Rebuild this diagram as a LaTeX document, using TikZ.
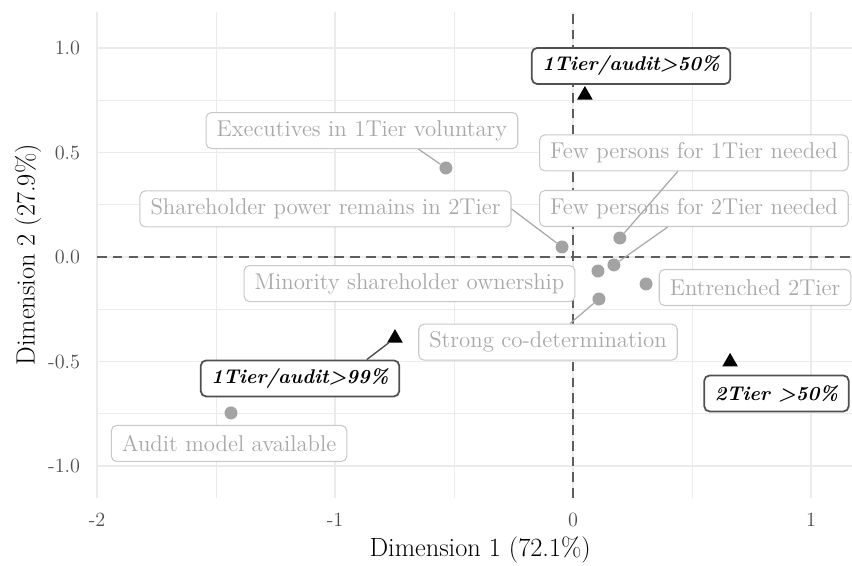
\documentclass[tikz,border=0pt]{standalone}
\usepackage{fontspec}
\usepackage{tikz}
\usetikzlibrary{positioning,shapes.geometric}

\definecolor{gridgray}{HTML}{EBEBEB}
\definecolor{dashgray}{HTML}{5E5E5E}
\definecolor{axisgray}{HTML}{4D4D4D}
\definecolor{lblgray}{HTML}{A8A8A8}
\definecolor{boxgray}{HTML}{C8C8C8}
\definecolor{ptgray}{HTML}{A3A3A3}
\definecolor{keygray}{HTML}{505050}

\begin{document}
\begin{tikzpicture}[
  x=4.76cm, y=4.18cm,
  lbl/.style={
    rectangle, rounded corners=3pt, minimum height=0.72cm, inner xsep=6pt,
    draw=boxgray, line width=0.6pt, fill=white, text=lblgray,
    font=\fontsize{13}{15}\selectfont
  },
  keylbl/.style={
    lbl, draw=keygray, line width=1pt, text=black,
    font=\fontsize{11.3}{13}\selectfont\bfseries\itshape
  },
  pt/.style={circle, fill=ptgray, inner sep=0pt, minimum size=0.26cm},
  tri/.style={regular polygon, regular polygon sides=3, fill=black,
    inner sep=0pt, minimum size=0.36cm},
  seg/.style={lblgray, line width=0.7pt},
  keyseg/.style={keygray, line width=0.8pt},
  gridmajor/.style={gridgray, line width=0.8pt},
  gridminor/.style={gridgray, line width=0.5pt},
  zeroline/.style={dashgray, line width=0.9pt, dash pattern=on 5.5pt off 3.5pt},
  ticklbl/.style={text=axisgray, font=\fontsize{11.5}{13}\selectfont},
  axtitle/.style={font=\fontsize{15}{17}\selectfont}
]
\useasboundingbox (-2.4076,-1.4737) rectangle (1.1723,1.2297);

% === Panel grid ===
\foreach \gx in {-1.5,-0.5,0.5}
  \draw[gridminor] (\gx,-1.153) -- (\gx,1.17);
\foreach \gy in {-0.75,-0.25,0.25,0.75}
  \draw[gridminor] (-2,\gy) -- (1.1723,\gy);
\foreach \gx in {-2,-1,0,1}
  \draw[gridmajor] (\gx,-1.153) -- (\gx,1.17);
\foreach \gy in {-1,-0.5,0,0.5,1}
  \draw[gridmajor] (-2,\gy) -- (1.1723,\gy);

% Zero lines
\draw[zeroline] (-2,0) -- (1.1723,0);
\draw[zeroline] (0,-1.153) -- (0,1.17);

% === Axes ===
\foreach \gy/\txt in {1/1.0,0.5/0.5,0/0.0,-0.5/-0.5,-1/-1.0}
  \node[ticklbl, anchor=east] (yt\txt) at (-2.045,\gy) {\txt};
\foreach \gx in {-2,-1,0,1}
  \node[ticklbl] (xt\gx) at (\gx,-1.258) {\gx};
\node[axtitle] (xtitle) at (-0.39,-1.402) {Dimension 1 (72.1\%)};
\node[axtitle, rotate=90] (ytitle) at (-2.29,0.01) {Dimension 2 (27.9\%)};

% === Points ===
\node[pt] (pExec) at (-0.534,0.426) {};
\node[pt] (pShare) at (-0.046,0.048) {};
\node[pt] (pFewOne) at (0.197,0.091) {};
\node[pt] (pFewTwo) at (0.172,-0.038) {};
\node[pt] (pMinor) at (0.105,-0.067) {};
\node[pt] (pEntr) at (0.307,-0.129) {};
\node[pt] (pStrong) at (0.109,-0.201) {};
\node[pt] (pAudit) at (-1.437,-0.746) {};

% Groups
\node[tri] (tOne) at (0.05,0.775) {};
\node[tri] (tAudit) at (-0.748,-0.388) {};
\node[tri] (tTwo) at (0.66,-0.502) {};

% === Labels ===
\node[lbl] (lExec) at (-0.887,0.605) {Executives in 1Tier voluntary};
\node[lbl] (lShare) at (-1.040,0.230) {Shareholder power remains in 2Tier};
\node[lbl] (lFewOne) at (0.508,0.498) {Few persons for 1Tier needed};
\node[lbl] (lFewTwo) at (0.508,0.232) {Few persons for 2Tier needed};
\node[lbl] (lMinor) at (-0.687,-0.127) {Minority shareholder ownership};
\node[lbl] (lEntr) at (0.765,-0.146) {Entrenched 2Tier};
\node[lbl] (lStrong) at (-0.105,-0.407) {Strong co-determination};
\node[lbl] (lAudit) at (-1.445,-0.892) {Audit model available};

\node[keylbl] (kOne) at (0.244,0.914) {1Tier/audit>50\%};
\node[keylbl] (kAudit) at (-1.147,-0.581) {1Tier/audit>99\%};
\node[keylbl] (kTwo) at (0.855,-0.653) {2Tier >50\%};

% === Segments ===
\draw[seg] (lExec.south east) ++(-0.42,0) coordinate (sExec) -- (pExec);
\draw[seg] (lShare.east) -- (pShare);
\draw[seg] (lFewOne) -- (pFewOne);
\draw[seg] (lFewTwo) -- (pFewTwo);
\draw[seg] (lStrong) -- (pStrong);
\draw[keyseg] (kAudit.north east) ++(-0.14,0) coordinate (sAudit) -- (tAudit);

\end{tikzpicture}
\end{document}
